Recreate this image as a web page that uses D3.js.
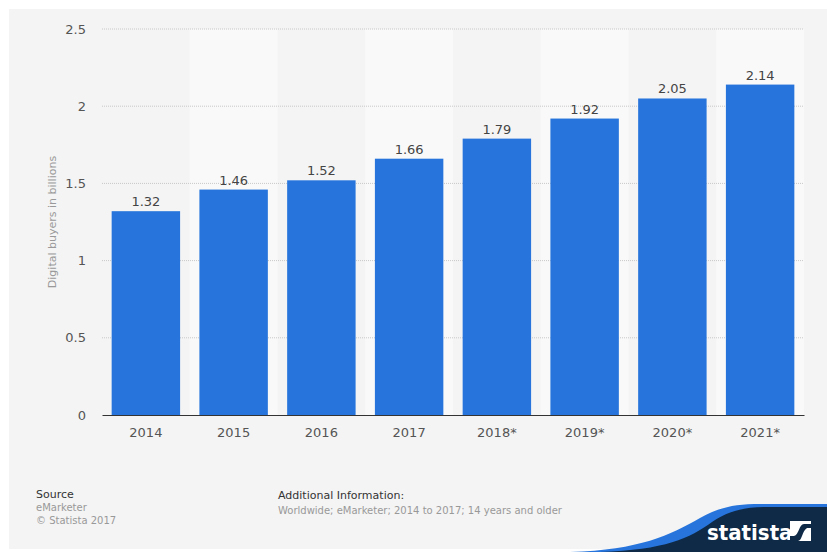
<!DOCTYPE html>
<html lang="en">
<head>
<meta charset="utf-8">
<title>Digital buyers worldwide</title>
<script src="https://d3js.org/d3.v7.min.js"></script>
<style>
  body { margin: 0; background: #fff; }
  svg { display: block; font-family: "DejaVu Sans", sans-serif; }
</style>
</head>
<body>
<svg id="chart" width="827" height="552"></svg>
<script>
// data
var years = ["2014", "2015", "2016", "2017", "2018*", "2019*", "2020*", "2021*"];
var buyers = [1.32, 1.46, 1.52, 1.66, 1.79, 1.92, 2.05, 2.14];
var yTicks = [0, 0.5, 1, 1.5, 2, 2.5];

// note: "top" is taken by window.top, so plot edges get their own names
var svg = d3.select("#chart"),
    plotLeft = 102, plotRight = 804, plotTop = 29, plotBottom = 415;

// gray panel
svg.append("rect").attr("x", 9).attr("y", 9).attr("width", 818).attr("height", 540).attr("fill", "#f4f4f4");

var x = d3.scaleBand().domain(years).range([plotLeft, plotRight]).paddingInner(0.22).paddingOuter(0.11);
var band = d3.scaleBand().domain(years).range([plotLeft, plotRight]);
var y = d3.scaleLinear().domain([0, 2.5]).range([plotBottom, plotTop]);

// light stripes on every other column
svg.selectAll("rect.stripe")
  .data(years.filter(function (d, i) { return i % 2 == 1; }))
  .enter().append("rect")
  .attr("x", function (d) { return band(d); })
  .attr("y", plotTop)
  .attr("width", band.bandwidth())
  .attr("height", plotBottom - plotTop)
  .attr("fill", "#f9f9f9");

// grid
svg.selectAll("line.grid")
  .data(yTicks.filter(function (d) { return d > 0; }))
  .enter().append("line")
  .attr("x1", plotLeft).attr("x2", plotRight)
  .attr("y1", function (d) { return y(d); })
  .attr("y2", function (d) { return y(d); })
  .attr("stroke", "#c8c8c8")
  .attr("stroke-dasharray", "1,1");

// y axis
var yAxis = svg.append("g")
  .attr("transform", "translate(" + plotLeft + ",0)")
  .call(d3.axisLeft(y).tickValues(yTicks).tickSize(0).tickPadding(16).tickFormat(d3.format("")));
yAxis.select(".domain").remove();
yAxis.selectAll("text").attr("font-size", 13).attr("fill", "#555").attr("font-family", "DejaVu Sans");

// bars
svg.selectAll("rect.bar")
  .data(buyers)
  .enter().append("rect")
  .attr("x", function (d, i) { return x(years[i]); })
  .attr("y", function (d) { return y(d); })
  .attr("width", x.bandwidth())
  .attr("height", function (d) { return plotBottom - y(d); })
  .attr("fill", "#2775dc");

// value labels
svg.selectAll("text.val")
  .data(buyers)
  .enter().append("text")
  .attr("x", function (d, i) { return x(years[i]) + x.bandwidth() / 2; })
  .attr("y", function (d) { return y(d) - 5; })
  .attr("text-anchor", "middle")
  .attr("font-size", 13)
  .attr("fill", "#444")
  .text(function (d) { return d.toFixed(2); });

// x axis
var xAxis = svg.append("g")
  .attr("transform", "translate(0," + plotBottom + ")")
  .call(d3.axisBottom(band).tickSize(0).tickPadding(13));
xAxis.select(".domain").attr("stroke", "#333").attr("stroke-width", 1.2);
xAxis.selectAll("text").attr("font-size", 13).attr("fill", "#555").attr("font-family", "DejaVu Sans");

// y title
svg.append("text")
  .attr("transform", "translate(56,222) rotate(-90)")
  .attr("text-anchor", "middle")
  .attr("font-size", 11)
  .attr("fill", "#999")
  .text("Digital buyers in billions");

// footer
svg.append("text").attr("x", 36).attr("y", 498).attr("font-size", 11).attr("fill", "#333").text("Source");
svg.append("text").attr("x", 36).attr("y", 511).attr("font-size", 10).attr("fill", "#999").text("eMarketer");
svg.append("text").attr("x", 36).attr("y", 524).attr("font-size", 10).attr("fill", "#999").text("© Statista 2017");
svg.append("text").attr("x", 278).attr("y", 499).attr("font-size", 11).attr("fill", "#333").text("Additional Information:");
svg.append("text").attr("x", 278).attr("y", 514).attr("font-size", 10).attr("fill", "#999").text("Worldwide; eMarketer; 2014 to 2017; 14 years and older");

// logo swoosh
svg.append("path")
  .attr("d", "M570,552 C640,550 670,535 700,518 C720,507 735,504 760,504 L827,504 L827,552 Z")
  .attr("fill", "#2775dc");
svg.append("path")
  .attr("d", "M600,552 C665,550 690,538 712,522 C730,510 745,507 770,507 L827,507 L827,552 Z")
  .attr("fill", "#0e2a47");
svg.append("text")
  .attr("x", 707).attr("y", 540)
  .attr("font-size", 22).attr("font-weight", "bold")
  .attr("fill", "#fff")
  .attr("font-family", "DejaVu Sans Condensed, DejaVu Sans")
  .text("statista");
var logo = svg.append("g").attr("transform", "translate(790,521)");
logo.append("rect").attr("width", 21).attr("height", 20).attr("fill", "#fff");
logo.append("path").attr("d", "M0,20 L8,20 C12,20 12,10 17,7 L21,7 L21,3 L14,3 C9,3 9,14 4,15 L0,15 Z").attr("fill", "#0e2a47");
</script>
</body>
</html>
